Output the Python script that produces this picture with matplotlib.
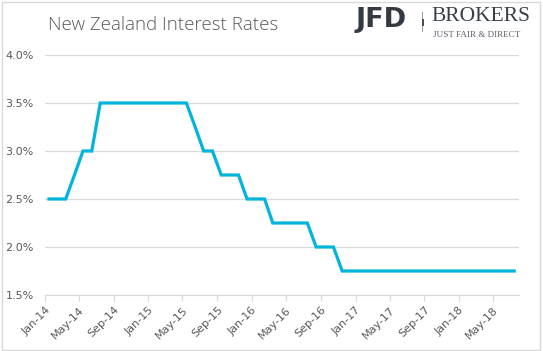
import pandas as pd
import matplotlib
matplotlib.use("Agg")
import matplotlib.pyplot as plt
import matplotlib.dates as mdates
from matplotlib.patches import Rectangle

# Monthly OCR values, Jan-14 .. Jul-18 (%)
rates = [2.5, 2.5, 2.5, 2.75, 3.0, 3.0, 3.5, 3.5, 3.5, 3.5,
         3.5, 3.5, 3.5, 3.5, 3.5, 3.5, 3.5, 3.25, 3.0, 3.0,
         2.75, 2.75, 2.75, 2.5, 2.5, 2.5, 2.25, 2.25, 2.25, 2.25,
         2.25, 2.0, 2.0, 2.0, 1.75, 1.75, 1.75, 1.75, 1.75, 1.75,
         1.75, 1.75, 1.75, 1.75, 1.75, 1.75, 1.75, 1.75, 1.75, 1.75,
         1.75, 1.75, 1.75, 1.75, 1.75]
months = pd.date_range("2014-01-01", periods=len(rates), freq="MS") + pd.Timedelta(days=14)
yticks = [1.5, 2.0, 2.5, 3.0, 3.5, 4.0]

grey = "#595959"
fig = plt.figure(figsize=(5.43, 3.51), dpi=100)
ax = fig.add_axes([0.0829, 0.1595, 0.8729, 0.6838])

ax.plot(months, rates, color="#00b4dc", lw=2.3, solid_joinstyle="miter")

ax.set_ylim(1.5, 4.0)
ax.set_xlim(pd.Timestamp("2014-01-01"), pd.Timestamp("2018-08-01"))
ax.set_yticks(yticks)
ax.set_yticklabels([f"{v:.1f}%" for v in yticks])
ax.yaxis.grid(True, color="#d9d9d9", lw=0.9)
ax.set_axisbelow(True)
ax.xaxis.set_major_locator(mdates.MonthLocator(bymonth=[1, 5, 9]))
ax.xaxis.set_major_formatter(mdates.DateFormatter("%b-%y"))
for lbl in ax.get_xticklabels():
    lbl.set_rotation(45)
    lbl.set_ha("right")
    lbl.set_rotation_mode("anchor")

for s in ["top", "right", "left"]:
    ax.spines[s].set_visible(False)
ax.spines["bottom"].set_color("#d9d9d9")
ax.tick_params(axis="y", length=0, pad=8, labelsize=8, labelcolor=grey)
ax.tick_params(axis="x", length=4, color="#d9d9d9", labelsize=8, labelcolor=grey, pad=3)

fig.text(0.088, 0.93, "New Zealand Interest Rates", fontsize=13.5, color=grey,
         family="Open Sans", weight="light", va="center")

# logo
fig.text(0.655, 0.942, "JFD", fontsize=19.5, weight="bold", color="#353a42",
         family="DejaVu Sans", va="center")
fig.add_artist(Rectangle((0.7775, 0.91), 0.0022, 0.055, transform=fig.transFigure,
                         color="#9a9ea3", lw=0))
fig.add_artist(Rectangle((0.7768, 0.925), 0.0036, 0.022, transform=fig.transFigure,
                         color="#4a4f56", lw=0))
fig.text(0.795, 0.952, "BROKERS", fontsize=15.5, color="#3a3f47",
         family="Liberation Serif", va="center")
fig.text(0.797, 0.9, "JUST FAIR & DIRECT", fontsize=6.6, color="#5a5e64",
         family="Liberation Serif", va="center")

fig.add_artist(Rectangle((0.003, 0.003), 0.992, 0.992, transform=fig.transFigure,
                         fill=False, edgecolor="#d9d9d9", lw=1))

fig.savefig("out.png", dpi=100)
